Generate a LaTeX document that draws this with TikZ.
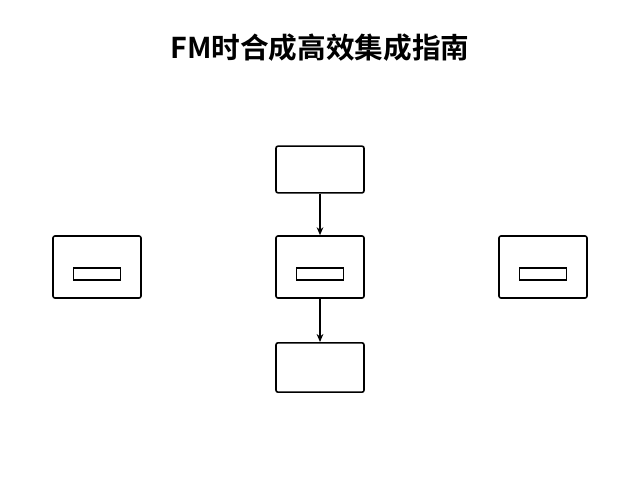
\documentclass[tikz,border=0pt]{standalone}
\usepackage{fontspec}
\newfontfamily\cjk{Noto Sans CJK SC}[BoldFont={Noto Sans CJK SC Bold}]
\usetikzlibrary{arrows.meta}
\begin{document}
\begin{tikzpicture}[x=0.75pt,y=-0.75pt,
  box/.style={draw,line width=1.2pt,rounded corners=1.5pt,minimum width=66pt,inner sep=0pt},
  bar/.style={draw,line width=1.2pt,minimum width=35pt,minimum height=9pt,inner sep=0pt},
  arr/.style={-{Stealth[length=6pt,width=5pt]},line width=1.2pt}]
\useasboundingbox (0,0) rectangle (640,480);
\node[font=\cjk\bfseries\fontsize{21.5}{24}\selectfont] (title) at (320,48) {FM时合成高效集成指南};
\node[box,minimum height=35pt] (top) at (320,169.5) {};
\node[box,minimum height=46.5pt] (mid) at (320,267) {};
\node[box,minimum height=46.5pt] (left) at (97,267) {};
\node[box,minimum height=46.5pt] (right) at (543,267) {};
\node[box,minimum height=37pt] (bot) at (320,367.5) {};
\node[bar] (midbar) at (320,274) {};
\node[bar] (leftbar) at (97,274) {};
\node[bar] (rightbar) at (543,274) {};
\draw[arr] (top) -- (mid);
\draw[arr] (mid) -- (bot);
\end{tikzpicture}
\end{document}
